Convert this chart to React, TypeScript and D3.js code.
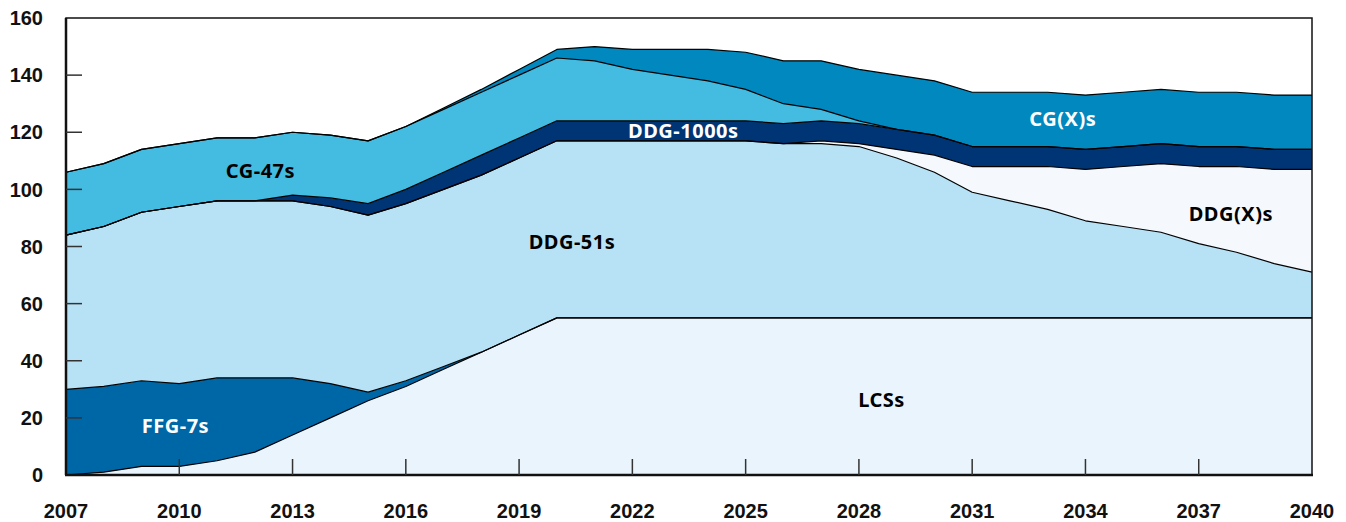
import * as d3 from "d3";
import { useEffect, useRef } from "react";

const years = d3.range(2007, 2041);

// ship counts per class, one value per year 2007..2040
const lcs = [0, 1, 3, 3, 5, 8, 14, 20, 26, 31, 37, 43, 49, 55, 55, 55, 55, 55, 55, 55, 55, 55, 55, 55, 55, 55, 55, 55, 55, 55, 55, 55, 55, 55];
const ffg7 = [30, 30, 30, 29, 29, 26, 20, 12, 3, 2, 1, 0, 0, 0, 0, 0, 0, 0, 0, 0, 0, 0, 0, 0, 0, 0, 0, 0, 0, 0, 0, 0, 0, 0];
const ddg51 = [54, 56, 59, 62, 62, 62, 62, 62, 62, 62, 62, 62, 62, 62, 62, 62, 62, 62, 62, 61, 61, 60, 56, 51, 44, 41, 38, 34, 32, 30, 26, 23, 19, 16];
const ddgx = [0, 0, 0, 0, 0, 0, 0, 0, 0, 0, 0, 0, 0, 0, 0, 0, 0, 0, 0, 0, 1, 1, 3, 6, 9, 12, 15, 18, 21, 24, 27, 30, 33, 36];
const ddg1000 = [0, 0, 0, 0, 0, 0, 2, 3, 4, 5, 6, 7, 7, 7, 7, 7, 7, 7, 7, 7, 7, 7, 7, 7, 7, 7, 7, 7, 7, 7, 7, 7, 7, 7];
const cg47 = [22, 22, 22, 22, 22, 22, 22, 22, 22, 22, 22, 22, 22, 22, 21, 18, 16, 14, 11, 7, 4, 1, 0, 0, 0, 0, 0, 0, 0, 0, 0, 0, 0, 0];
const cgx = [0, 0, 0, 0, 0, 0, 0, 0, 0, 0, 0.5, 1, 2, 3, 5, 7, 9, 11, 13, 15, 17, 18, 19, 19, 19, 19, 19, 19, 19, 19, 19, 19, 19, 19];

const series = [
    { key: "LCSs", values: lcs, color: "#e9f4fc" },
    { key: "FFG-7s", values: ffg7, color: "#0067a7" },
    { key: "DDG-51s", values: ddg51, color: "#b7e1f5" },
    { key: "DDG(X)s", values: ddgx, color: "#f5f9fd" },
    { key: "DDG-1000s", values: ddg1000, color: "#003575" },
    { key: "CG-47s", values: cg47, color: "#44bbe0" },
    { key: "CG(X)s", values: cgx, color: "#0088bf" },
];

// label anchor points in data units (year, ships)
const labels = [
    { text: "CG-47s", year: 2012.15, value: 106.4, color: "#000" },
    { text: "DDG-51s", year: 2020.4, value: 81.6, color: "#000" },
    { text: "DDG-1000s", year: 2023.35, value: 120.4, color: "#fff" },
    { text: "FFG-7s", year: 2009.9, value: 17.2, color: "#fff" },
    { text: "LCSs", year: 2028.6, value: 26.3, color: "#000" },
    { text: "CG(X)s", year: 2033.4, value: 124.6, color: "#fff" },
    { text: "DDG(X)s", year: 2037.85, value: 91.4, color: "#000" },
];

const yTicks = [0, 20, 40, 60, 80, 100, 120, 140, 160];
const xTicks = d3.range(2007, 2041, 3);

function App() {
    const ref = useRef<SVGSVGElement>(null);

    useEffect(() => {
        const svg = d3.select(ref.current);
        svg.selectAll("*").remove();

        const width = 1346;
        const height = 522;
        const margin = { top: 18, right: 34, bottom: 47, left: 66 };
        const plotW = width - margin.left - margin.right;
        const plotH = height - margin.top - margin.bottom;

        svg.attr("width", width).attr("height", height);

        const rows = years.map((yr, i) => {
            const r: any = { year: yr };
            series.forEach(s => (r[s.key] = s.values[i]));
            return r;
        });

        const stacked = d3.stack().keys(series.map(s => s.key))(rows);

        const x = d3.scaleLinear().domain([2007, 2040]).range([0, plotW]);
        const y = d3.scaleLinear().domain([0, 160]).range([plotH, 0]);

        const g = svg
            .append("g")
            .attr("transform", `translate(${margin.left},${margin.top})`);

        const area = d3
            .area<any>()
            .x(d => x(d.data.year))
            .y0(d => y(d[0]))
            .y1(d => y(d[1]));

        const topLine = d3
            .line<any>()
            .x(d => x(d.data.year))
            .y(d => y(d[1]));

        g.selectAll(".layer")
            .data(stacked)
            .enter()
            .append("path")
            .attr("class", "layer")
            .attr("d", area)
            .attr("fill", (_, i) => series[i].color);

        g.selectAll(".edge")
            .data(stacked)
            .enter()
            .append("path")
            .attr("class", "edge")
            .attr("d", topLine)
            .attr("fill", "none")
            .attr("stroke", "#000")
            .attr("stroke-width", 1.2)
            .attr("stroke-linejoin", "round");

        // frame
        g.append("rect")
            .attr("x", 0)
            .attr("y", 0)
            .attr("width", plotW)
            .attr("height", plotH)
            .attr("fill", "none")
            .attr("stroke", "#111")
            .attr("stroke-width", 1.5);
        g.append("line")
            .attr("x1", 0).attr("x2", 0)
            .attr("y1", 0).attr("y2", plotH)
            .attr("stroke", "#111").attr("stroke-width", 2.5);
        g.append("line")
            .attr("x1", -1).attr("x2", plotW + 1)
            .attr("y1", plotH).attr("y2", plotH)
            .attr("stroke", "#111").attr("stroke-width", 2.5);

        // y ticks (inward)
        g.selectAll(".ytick")
            .data(yTicks.filter(t => t > 0 && t < 160))
            .enter()
            .append("line")
            .attr("x1", 0)
            .attr("x2", 16)
            .attr("y1", d => y(d))
            .attr("y2", d => y(d))
            .attr("stroke", "#333")
            .attr("stroke-width", 1.5);

        g.selectAll(".ylabel")
            .data(yTicks)
            .enter()
            .append("text")
            .attr("x", -23)
            .attr("y", d => y(d))
            .attr("dy", "0.36em")
            .attr("text-anchor", "end")
            .style("font-family", "'Liberation Sans', Arial, sans-serif")
            .style("font-weight", "bold")
            .style("font-size", "20px")
            .attr("fill", "#111")
            .text(d => d);

        // x ticks (inward)
        g.selectAll(".xtick")
            .data(xTicks.filter(t => t > 2007 && t < 2040))
            .enter()
            .append("line")
            .attr("x1", d => x(d))
            .attr("x2", d => x(d))
            .attr("y1", plotH)
            .attr("y2", plotH - 16)
            .attr("stroke", "#333")
            .attr("stroke-width", 1.5);

        g.selectAll(".xlabel")
            .data(xTicks)
            .enter()
            .append("text")
            .attr("x", d => x(d))
            .attr("y", plotH + 43)
            .attr("text-anchor", "middle")
            .style("font-family", "'Liberation Sans', Arial, sans-serif")
            .style("font-weight", "bold")
            .style("font-size", "20px")
            .attr("fill", "#111")
            .text(d => d);

        // series labels
        g.selectAll(".series-label")
            .data(labels)
            .enter()
            .append("text")
            .attr("class", "series-label")
            .attr("x", d => x(d.year))
            .attr("y", d => y(d.value))
            .attr("dy", "0.35em")
            .attr("text-anchor", "middle")
            .style("font-family", "'Noto Sans', sans-serif")
            .style("font-weight", "bold")
            .style("font-size", "20px")
            .style("letter-spacing", "0.5px")
            .attr("fill", d => d.color)
            .text(d => d.text);
    }, []);

    return (
        <div style={{ position: "absolute", left: 0, top: 0 }}>
            <svg ref={ref} style={{ display: "block" }} />
        </div>
    );
}

export default App;
